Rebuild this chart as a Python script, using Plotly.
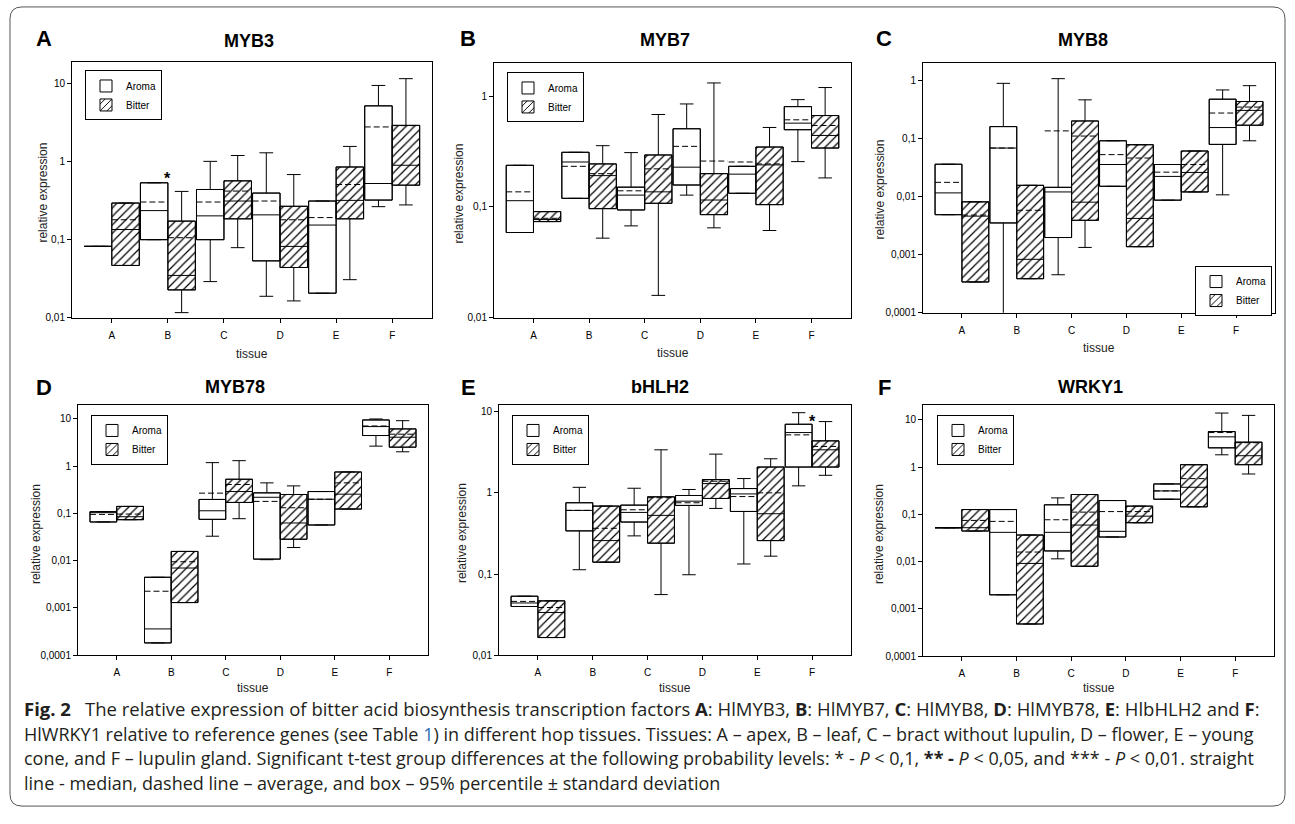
import math
import plotly.graph_objects as go

W, H = 1295, 824
CATS = ['A', 'B', 'C', 'D', 'E', 'F']

# ---------------- Panel A : MYB3 ----------------
MYB3_AROMA_LOW = [0.082, 0.100, 0.029, 0.0188, 0.0206, 0.265]
MYB3_AROMA_Q1 = [0.082, 0.100, 0.100, 0.0535, 0.0206, 0.322]
MYB3_AROMA_MED = [0.082, 0.236, 0.202, 0.208, 0.154, 0.525]
MYB3_AROMA_MEAN = [0.082, 0.304, 0.304, 0.313, 0.192, 2.79]
MYB3_AROMA_Q3 = [0.082, 0.536, 0.44, 0.396, 0.313, 5.2]
MYB3_AROMA_HIGH = [0.082, 0.536, 1.01, 1.3, 0.313, 9.5]
MYB3_BITTER_LOW = [0.0467, 0.0116, 0.079, 0.0164, 0.0307, 0.279]
MYB3_BITTER_Q1 = [0.0467, 0.0227, 0.185, 0.044, 0.185, 0.5]
MYB3_BITTER_MED = [0.135, 0.0348, 0.313, 0.082, 0.319, 0.9]
MYB3_BITTER_MEAN = [0.18, 0.106, 0.42, 0.18, 0.51, 2.9]
MYB3_BITTER_Q3 = [0.295, 0.173, 0.568, 0.268, 0.855, 2.92]
MYB3_BITTER_HIGH = [0.295, 0.416, 1.2, 0.684, 1.57, 11.6]

# ---------------- Panel B : MYB7 ----------------
MYB7_AROMA_LOW = [0.0588, 0.1197, 0.0675, 0.128, 0.133, 0.257]
MYB7_AROMA_Q1 = [0.0588, 0.1197, 0.094, 0.158, 0.133, 0.499]
MYB7_AROMA_MED = [0.114, 0.255, 0.128, 0.229, 0.198, 0.572]
MYB7_AROMA_MEAN = [0.137, 0.233, 0.140, 0.353, 0.255, 0.613]
MYB7_AROMA_Q3 = [0.238, 0.312, 0.151, 0.509, 0.233, 0.807]
MYB7_AROMA_HIGH = [0.238, 0.312, 0.31, 0.853, 0.233, 0.933]
MYB7_BITTER_LOW = [0.0738, 0.0523, 0.0159, 0.0648, 0.0613, 0.183]
MYB7_BITTER_Q1 = [0.0738, 0.0966, 0.108, 0.0853, 0.105, 0.341]
MYB7_BITTER_MED = [0.077, 0.192, 0.137, 0.1156, 0.24, 0.443]
MYB7_BITTER_MEAN = [0.079, 0.2, 0.221, 0.26, 0.245, 0.545]
MYB7_BITTER_Q3 = [0.0908, 0.245, 0.295, 0.2, 0.348, 0.67]
MYB7_BITTER_HIGH = [0.0908, 0.358, 0.685, 1.32, 0.523, 1.2]

# ---------------- Panel C : MYB8 ----------------
MYB8_AROMA_LOW = [0.00487, 0.00008, 0.00045, 0.015, 0.00866, 0.0107]
MYB8_AROMA_Q1 = [0.00487, 0.00351, 0.00197, 0.015, 0.00866, 0.079]
MYB8_AROMA_MED = [0.01155, 0.0684, 0.012, 0.0356, 0.0222, 0.154]
MYB8_AROMA_MEAN = [0.01755, 0.0684, 0.135, 0.0527, 0.0263, 0.274]
MYB8_AROMA_Q3 = [0.036, 0.160, 0.0144, 0.0912, 0.0356, 0.474]
MYB8_AROMA_HIGH = [0.036, 0.889, 1.07, 0.0912, 0.0356, 0.684]
MYB8_BITTER_LOW = [0.000338, 0.000385, 0.00133, 0.00137, 0.012, 0.0912]
MYB8_BITTER_Q1 = [0.000338, 0.000385, 0.0039, 0.00137, 0.012, 0.169]
MYB8_BITTER_MED = [0.0046, 0.00083, 0.008, 0.0042, 0.026, 0.304]
MYB8_BITTER_MEAN = [0.0048, 0.0058, 0.11, 0.046, 0.0356, 0.347]
MYB8_BITTER_Q3 = [0.0081, 0.0156, 0.2, 0.078, 0.0608, 0.433]
MYB8_BITTER_HIGH = [0.0081, 0.0156, 0.462, 0.078, 0.0608, 0.811]

# ---------------- Panel D : MYB78 ----------------
MYB78_AROMA_LOW = [0.066, 0.000182, 0.033, 0.0105, 0.057, 2.66]
MYB78_AROMA_Q1 = [0.066, 0.000182, 0.075, 0.0108, 0.057, 4.46]
MYB78_AROMA_MED = [0.104, 0.00036, 0.114, 0.22, 0.2, 6.9]
MYB78_AROMA_MEAN = [0.0955, 0.00226, 0.269, 0.18, 0.2, 7.1]
MYB78_AROMA_Q3 = [0.109, 0.00446, 0.198, 0.273, 0.291, 9.53]
MYB78_AROMA_HIGH = [0.109, 0.00446, 1.19, 0.444, 0.291, 10.0]
MYB78_BITTER_LOW = [0.0738, 0.0013, 0.0775, 0.019, 0.124, 2.02]
MYB78_BITTER_Q1 = [0.0738, 0.0013, 0.171, 0.0285, 0.124, 2.53]
MYB78_BITTER_MED = [0.0853, 0.007, 0.291, 0.0628, 0.256, 4.11]
MYB78_BITTER_MEAN = [0.097, 0.0095, 0.41, 0.132, 0.444, 4.76]
MYB78_BITTER_Q3 = [0.141, 0.0157, 0.53, 0.252, 0.755, 6.16]
MYB78_BITTER_HIGH = [0.141, 0.0157, 1.31, 0.383, 0.755, 9.2]

# ---------------- Panel E : bHLH2 ----------------
BHLH2_AROMA_LOW = [0.0398, 0.113, 0.295, 0.098, 0.133, 1.22]
BHLH2_AROMA_Q1 = [0.0398, 0.34, 0.437, 0.70, 0.59, 2.08]
BHLH2_AROMA_MED = [0.044, 0.608, 0.574, 0.79, 0.97, 5.53]
BHLH2_AROMA_MEAN = [0.046, 0.608, 0.619, 0.755, 0.90, 5.18]
BHLH2_AROMA_Q3 = [0.0533, 0.755, 0.706, 0.928, 1.13, 7.0]
BHLH2_AROMA_HIGH = [0.0533, 1.17, 1.14, 1.1, 1.5, 9.72]
BHLH2_BITTER_LOW = [0.0165, 0.140, 0.0558, 0.643, 0.166, 1.645]
BHLH2_BITTER_Q1 = [0.0165, 0.140, 0.24, 0.853, 0.258, 2.08]
BHLH2_BITTER_MED = [0.0336, 0.258, 0.528, 1.3, 0.553, 3.39]
BHLH2_BITTER_MEAN = [0.0387, 0.366, 0.87, 1.39, 1.0, 3.73]
BHLH2_BITTER_Q3 = [0.0467, 0.687, 0.893, 1.456, 2.08, 4.37]
BHLH2_BITTER_HIGH = [0.0467, 0.687, 3.39, 3.0, 2.63, 7.55]

# ---------------- Panel F : WRKY1 ----------------
WRKY1_AROMA_LOW = [0.0524, 0.00199, 0.0115, 0.0333, 0.21, 1.83]
WRKY1_AROMA_Q1 = [0.0524, 0.00199, 0.0169, 0.0333, 0.21, 2.57]
WRKY1_AROMA_MED = [0.0524, 0.0418, 0.0418, 0.0439, 0.315, 4.39]
WRKY1_AROMA_MEAN = [0.0524, 0.0713, 0.0772, 0.115, 0.315, 5.41]
WRKY1_AROMA_Q3 = [0.0524, 0.127, 0.16, 0.197, 0.442, 5.68]
WRKY1_AROMA_HIGH = [0.0524, 0.127, 0.224, 0.197, 0.442, 14.0]
WRKY1_BITTER_LOW = [0.0446, 0.00048, 0.008, 0.0668, 0.145, 0.718]
WRKY1_BITTER_Q1 = [0.0446, 0.00048, 0.008, 0.0668, 0.145, 1.13]
WRKY1_BITTER_MED = [0.0524, 0.0092, 0.0596, 0.092, 0.376, 1.75]
WRKY1_BITTER_MEAN = [0.0748, 0.016, 0.112, 0.115, 0.573, 3.3]
WRKY1_BITTER_Q3 = [0.127, 0.0367, 0.264, 0.15, 1.13, 3.39]
WRKY1_BITTER_HIGH = [0.127, 0.0367, 0.264, 0.15, 1.13, 12.5]

# significance stars (category, value at which the star sits)
STAR_MYB3 = [('B', 0.6)]
STAR_BHLH2 = [('F', 7.6)]

# y tick values / labels
TICKS_4 = [0.0001, 0.001, 0.01, 0.1, 1, 10]
TICKS_4_TXT = ['0,0001', '0,001', '0,01', '0,1', '1', '10']

panels = [
    dict(letter='A', gene='MYB3',
         aroma=(MYB3_AROMA_LOW, MYB3_AROMA_Q1, MYB3_AROMA_MED, MYB3_AROMA_MEAN, MYB3_AROMA_Q3, MYB3_AROMA_HIGH),
         bitter=(MYB3_BITTER_LOW, MYB3_BITTER_Q1, MYB3_BITTER_MED, MYB3_BITTER_MEAN, MYB3_BITTER_Q3, MYB3_BITTER_HIGH),
         box=(72, 62, 432, 320), yr=(-2, 1.284), ticks=(2, 6), leg=(85, 71),
         lpos=(44, 39), tpos=(249, 41), ytit=(43, 194), xtit=357, stars=STAR_MYB3),
    dict(letter='B', gene='MYB7',
         aroma=(MYB7_AROMA_LOW, MYB7_AROMA_Q1, MYB7_AROMA_MED, MYB7_AROMA_MEAN, MYB7_AROMA_Q3, MYB7_AROMA_HIGH),
         bitter=(MYB7_BITTER_LOW, MYB7_BITTER_Q1, MYB7_BITTER_MED, MYB7_BITTER_MEAN, MYB7_BITTER_Q3, MYB7_BITTER_HIGH),
         box=(494, 63, 851, 320), yr=(-2, 0.305), ticks=(2, 5), leg=(507, 73),
         lpos=(468, 39), tpos=(665, 40), ytit=(459, 195), xtit=356, stars=[]),
    dict(letter='C', gene='MYB8',
         aroma=(MYB8_AROMA_LOW, MYB8_AROMA_Q1, MYB8_AROMA_MED, MYB8_AROMA_MEAN, MYB8_AROMA_Q3, MYB8_AROMA_HIGH),
         bitter=(MYB8_BITTER_LOW, MYB8_BITTER_Q1, MYB8_BITTER_MED, MYB8_BITTER_MEAN, MYB8_BITTER_Q3, MYB8_BITTER_HIGH),
         box=(923, 63, 1275, 315), yr=(-4, 0.307), ticks=(0, 5), leg=(1195, 268),
         lpos=(884, 39), tpos=(1083, 40), ytit=(880, 191), xtit=351, stars=[]),
    dict(letter='D', gene='MYB78',
         aroma=(MYB78_AROMA_LOW, MYB78_AROMA_Q1, MYB78_AROMA_MED, MYB78_AROMA_MEAN, MYB78_AROMA_Q3, MYB78_AROMA_HIGH),
         bitter=(MYB78_BITTER_LOW, MYB78_BITTER_Q1, MYB78_BITTER_MED, MYB78_BITTER_MEAN, MYB78_BITTER_Q3, MYB78_BITTER_HIGH),
         box=(78, 408, 428, 660), yr=(-4, 1.295), ticks=(0, 6), leg=(91, 418),
         lpos=(44, 390), tpos=(235, 390), ytit=(36, 538), xtit=693, stars=[]),
    dict(letter='E', gene='bHLH2',
         aroma=(BHLH2_AROMA_LOW, BHLH2_AROMA_Q1, BHLH2_AROMA_MED, BHLH2_AROMA_MEAN, BHLH2_AROMA_Q3, BHLH2_AROMA_HIGH),
         bitter=(BHLH2_BITTER_LOW, BHLH2_BITTER_Q1, BHLH2_BITTER_MED, BHLH2_BITTER_MEAN, BHLH2_BITTER_Q3, BHLH2_BITTER_HIGH),
         box=(499, 408, 851, 660), yr=(-2, 1.082), ticks=(2, 6), leg=(512, 418),
         lpos=(468, 390), tpos=(660, 390), ytit=(462, 537), xtit=693, stars=STAR_BHLH2),
    dict(letter='F', gene='WRKY1',
         aroma=(WRKY1_AROMA_LOW, WRKY1_AROMA_Q1, WRKY1_AROMA_MED, WRKY1_AROMA_MEAN, WRKY1_AROMA_Q3, WRKY1_AROMA_HIGH),
         bitter=(WRKY1_BITTER_LOW, WRKY1_BITTER_Q1, WRKY1_BITTER_MED, WRKY1_BITTER_MEAN, WRKY1_BITTER_Q3, WRKY1_BITTER_HIGH),
         box=(923, 408, 1274, 661), yr=(-4, 1.316), ticks=(0, 6), leg=(937, 418),
         lpos=(884, 390), tpos=(1090, 390), ytit=(879, 538), xtit=693, stars=[]),
]

FONT = 'Liberation Sans, Arial, sans-serif'
CAP_FONT = 'Open Sans, Noto Sans, sans-serif'
BOX_OFF = 0.245
BOX_W = 0.49


def PX(x):
    return x / W


def PY(y):
    return 1 - y / H


def ann(text, x, y, size, color='black', angle=0, family=FONT):
    return dict(text=text, x=PX(x), y=PY(y), xref='paper', yref='paper',
                xanchor='center', yanchor='middle', showarrow=False, textangle=angle,
                font=dict(size=size, family=family, color=color))


fig = go.Figure()
annotations = []

for k, p in enumerate(panels):
    n = '' if k == 0 else str(k + 1)
    xa, ya, leg = 'x' + n, 'y' + n, 'legend' + n
    for g, stats, off in (('Aroma', p['aroma'], -BOX_OFF), ('Bitter', p['bitter'], BOX_OFF)):
        lo, q1, med, mean, q3, hi = stats
        pos = [i + off for i in range(len(CATS))]
        pattern = dict(shape='/', fgcolor='black', bgcolor='white', size=6,
                       solidity=0.2, fillmode='replace') if g == 'Bitter' else dict(shape='')
        fig.add_trace(go.Bar(
            x=pos, base=q1, y=[b - a for a, b in zip(q1, q3)], width=BOX_W, name=g,
            marker=dict(color='white', line=dict(color='black', width=1), pattern=pattern),
            xaxis=xa, yaxis=ya, legend=leg, hoverinfo='skip'))
        fig.add_trace(go.Box(
            x=pos, q1=q1, median=med, q3=q3, lowerfence=lo, upperfence=hi,
            orientation='v', boxmean=False, width=BOX_W, whiskerwidth=0.5, boxpoints=False,
            line=dict(color='black', width=1), fillcolor='rgba(0,0,0,0)',
            showlegend=False, xaxis=xa, yaxis=ya, hoverinfo='skip'))
        # dashed mean line across each box
        mx, my = [], []
        for c, m in zip(pos, mean):
            mx += [c - BOX_W / 2, c + BOX_W / 2, None]
            my += [m, m, None]
        fig.add_trace(go.Scatter(
            x=mx, y=my, mode='lines', line=dict(color='black', width=1, dash='6px,3px'),
            showlegend=False, xaxis=xa, yaxis=ya, hoverinfo='skip'))

    l, t, r, b = p['box']
    t0, t1 = p['ticks']
    fig.layout['xaxis' + n] = dict(
        domain=[PX(l), PX(r)], anchor=ya, range=[-0.71, 5.71],
        tickvals=list(range(len(CATS))), ticktext=CATS,
        showline=True, mirror=True, linecolor='black', linewidth=1,
        ticks='outside', ticklen=4, tickcolor='black', showgrid=False, zeroline=False,
        ticklabelstandoff=4,
        tickfont=dict(size=10, family=FONT, color='black'), fixedrange=True)
    fig.layout['yaxis' + n] = dict(
        domain=[PY(b), PY(t)], anchor=xa, type='log', range=list(p['yr']),
        tickvals=TICKS_4[t0:t1], ticktext=TICKS_4_TXT[t0:t1],
        showline=True, mirror=True, linecolor='black', linewidth=1,
        ticks='outside', ticklen=4, tickcolor='black', showgrid=False, zeroline=False,
        tickfont=dict(size=10, family=FONT, color='black'), fixedrange=True)
    lx, ly = p['leg']
    fig.layout[leg] = dict(
        x=PX(lx), y=PY(ly), xanchor='left', yanchor='top',
        bordercolor='black', borderwidth=1, bgcolor='white',
        font=dict(size=10, family=FONT, color='black'),
        tracegroupgap=0, itemwidth=30, traceorder='normal')

    annotations.append(ann('<b>%s</b>' % p['letter'], p['lpos'][0], p['lpos'][1], 22))
    annotations.append(ann('<b>%s</b>' % p['gene'], p['tpos'][0], p['tpos'][1], 18))
    annotations.append(ann('relative expression', p['ytit'][0], p['ytit'][1], 12, '#222', -90))
    annotations.append(ann('tissue', (l + r) / 2, p['xtit'], 12, '#222'))
    for cat, val in p['stars']:
        annotations.append(dict(text='<b>*</b>', x=CATS.index(cat), y=math.log10(val),
                                xref=xa, yref=ya, showarrow=False,
                                xanchor='center', yanchor='middle',
                                font=dict(size=16, family=FONT, color='black')))

# caption
CAPTION = [
    '<b>Fig. 2</b>\u2002 The relative expression of bitter acid biosynthesis transcription factors '
    '<b>A</b>: HlMYB3, <b>B</b>: HlMYB7, <b>C</b>: HlMYB8, <b>D</b>: HlMYB78, <b>E</b>: HlbHLH2 and <b>F</b>:',
    'HlWRKY1 relative to reference genes (see Table <span style="color:#2b6cb0">1</span>) in different hop '
    'tissues. Tissues: A \u2013 apex, B \u2013 leaf, C \u2013 bract without lupulin, D \u2013 flower, E \u2013 young',
    'cone, and F \u2013 lupulin gland. Significant t-test group differences at the following probability levels: '
    '* - <i>P</i> &lt; 0,1, <b>** -</b> <i>P</i> &lt; 0,05, and *** - <i>P</i> &lt; 0,01. straight',
    'line - median, dashed line \u2013 average, and box \u2013 95% percentile \u00b1 standard deviation',
]
CAP_SIZES = [18.5, 18, 18, 18]
for i, line in enumerate(CAPTION):
    annotations.append(dict(text=line, x=PX(22), y=PY(714 + 25 * i), xref='paper', yref='paper',
                            xanchor='left', yanchor='middle', showarrow=False, align='left',
                            font=dict(size=CAP_SIZES[i], family=CAP_FONT, color='#231f20')))

# rounded frame
x0, y0, x1, y1, rad = 10, 7, 1285, 812, 12
rx, ry = rad / W, rad / H
X0, X1, Y0, Y1 = PX(x0), PX(x1), PY(y0), PY(y1)
frame = ('M %f,%f L %f,%f Q %f,%f %f,%f L %f,%f Q %f,%f %f,%f L %f,%f Q %f,%f %f,%f L %f,%f Q %f,%f %f,%f Z' % (
    X0 + rx, Y0, X1 - rx, Y0, X1, Y0, X1, Y0 - ry, X1, Y1 + ry, X1, Y1, X1 - rx, Y1,
    X0 + rx, Y1, X0, Y1, X0, Y1 + ry, X0, Y0 - ry, X0, Y0, X0 + rx, Y0))

fig.update_layout(
    width=W, height=H, margin=dict(l=0, r=0, t=0, b=0),
    paper_bgcolor='white', plot_bgcolor='white',
    barmode='overlay', boxmode='overlay', showlegend=True,
    annotations=annotations,
    shapes=[dict(type='path', path=frame, xref='paper', yref='paper',
                 line=dict(color='#555555', width=1), layer='below')],
)

fig.write_html('out.html')
